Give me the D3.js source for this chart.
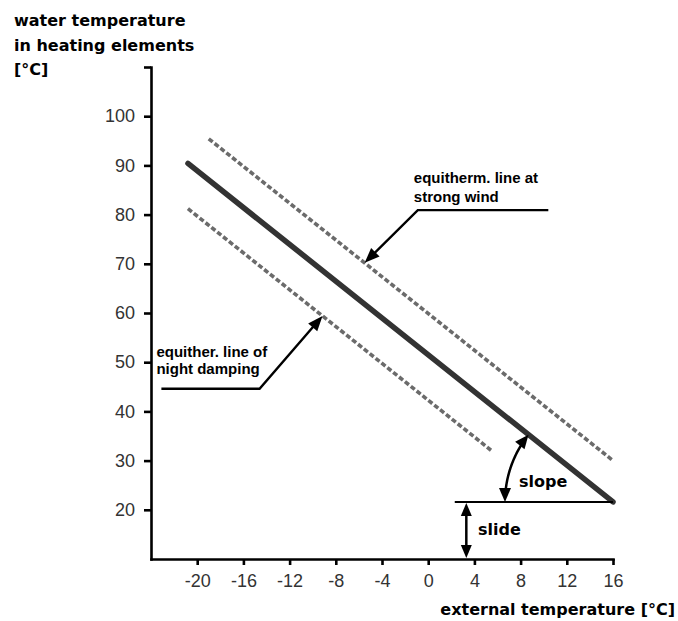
<!DOCTYPE html>
<html>
<head>
<meta charset="utf-8">
<script src="https://cdn.jsdelivr.net/npm/d3@7"></script>
<style>
  body { margin: 0; background: #fff; }
  svg { display: block; }
</style>
</head>
<body>
<div id="chart"></div>
<script>
/* data */
const xTicks = [-20, -16, -12, -8, -4, 0, 4, 8, 12, 16];
const yTicks = [20, 30, 40, 50, 60, 70, 80, 90, 100, 110];
const mainLine = [[-20.8, 90.4], [16, 21.6]];
const windLine = [[-19, 95.4], [16, 30]];
const nightLine = [[-20.8, 81.2], [5.6, 31.8]];
const slideLevel = 21.6;
const slideFrom = 2.3;
const slideArrowX = 3.3;
const windNote = {lines: ["equitherm. line at", "strong wind"], tip: [-5.5, 70.2], elbow: [-0.9, 80.9], end: 10.4};
const nightNote = {lines: ["equither. line of", "night damping"], tip: [-9.15, 59.4], elbow: [-14.6, 44.6], start: -23.1};

const width = 678, height = 621;
const boldFont = "'DejaVu Sans', sans-serif";
const noteFont = "'Liberation Sans', Arial, sans-serif";

const svg = d3.select("#chart").append("svg")
  .attr("width", width)
  .attr("height", height);

/* scales */
const x = d3.scaleLinear().domain([-24, 16]).range([151, 613]);
const y = d3.scaleLinear().domain([10, 110]).range([559, 67]);

/* axes */
const xAxis = d3.axisBottom(x).tickValues(xTicks).tickSize(6).tickSizeOuter(0).tickPadding(9)
  .tickFormat(d => String(d));
const yAxis = d3.axisLeft(y).tickValues(yTicks).tickSize(7).tickSizeOuter(0).tickPadding(9)
  .tickFormat(d => d > 100 ? "" : String(d));

const gx = svg.append("g").attr("transform", "translate(0," + y(10) + ")").call(xAxis);
const gy = svg.append("g").attr("transform", "translate(" + x(-24) + ",0)").call(yAxis);

[gx, gy].forEach(g => {
  g.selectAll("path, line").attr("stroke", "#000").attr("stroke-width", 2.6);
  g.select(".domain").attr("stroke-linecap", "square");
  g.selectAll("text")
    .attr("fill", "#333")
    .style("font", "18px 'Liberation Sans', Arial, sans-serif");
});

/* lines */
const line = d3.line().x(d => x(d[0])).y(d => y(d[1]));

svg.append("path").datum(windLine).attr("d", line)
  .attr("fill", "none").attr("stroke", "#6b6b6b").attr("stroke-width", 3.6)
  .attr("stroke-dasharray", "5,2.5");
svg.append("path").datum(nightLine).attr("d", line)
  .attr("fill", "none").attr("stroke", "#6b6b6b").attr("stroke-width", 3.6)
  .attr("stroke-dasharray", "5,2.5");
svg.append("path").datum(mainLine).attr("d", line)
  .attr("fill", "none").attr("stroke", "#333").attr("stroke-width", 5.5)
  .attr("stroke-linecap", "round");

/* arrow head helper: tip at (px,py), pointing along angle a (radians) */
function arrowHead(px, py, a, len = 12, half = 5) {
  const bx = px - len * Math.cos(a), by = py - len * Math.sin(a);
  const nx = -Math.sin(a) * half, ny = Math.cos(a) * half;
  svg.append("path")
    .attr("d", `M${px},${py}L${bx + nx},${by + ny}L${bx - nx},${by - ny}Z`)
    .attr("fill", "#000");
}

/* slide */
svg.append("line")
  .attr("x1", x(slideFrom)).attr("x2", x(16))
  .attr("y1", y(slideLevel)).attr("y2", y(slideLevel))
  .attr("stroke", "#000").attr("stroke-width", 2);
svg.append("line")
  .attr("x1", x(slideArrowX)).attr("x2", x(slideArrowX))
  .attr("y1", y(slideLevel) + 8).attr("y2", y(10) - 8)
  .attr("stroke", "#000").attr("stroke-width", 2.5);
arrowHead(x(slideArrowX), y(slideLevel) + 1, -Math.PI / 2, 13, 5.5);
arrowHead(x(slideArrowX), y(10) - 1, Math.PI / 2, 13, 5.5);

/* slope arc */
const cx = x(mainLine[1][0]), cy = y(mainLine[1][1]);
const lineAng = Math.atan2(y(mainLine[0][1]) - cy, x(mainLine[0][0]) - cx);
const r = 108;
const a0 = lineAng, a1 = -Math.PI;
const arcPts = d3.range(0, 1.0001, 0.02).map(t => {
  const a = a0 + (a1 - a0) * t;
  return [cx + r * Math.cos(a), cy + r * Math.sin(a)];
});
svg.append("path")
  .attr("d", d3.line().curve(d3.curveBasis)(arcPts.slice(5, arcPts.length - 6)))
  .attr("fill", "none").attr("stroke", "#000").attr("stroke-width", 2.5);
// tangent directions at the ends
arrowHead(arcPts[0][0], arcPts[0][1], a0 + Math.PI / 2, 14, 6);
arrowHead(arcPts[arcPts.length - 1][0], arcPts[arcPts.length - 1][1], a1 - Math.PI / 2, 14, 6);

svg.append("text").attr("x", 519).attr("y", 487)
  .style("font", "bold 16px " + boldFont).text("slope");
svg.append("text").attr("x", 478).attr("y", 535)
  .style("font", "bold 16px " + boldFont).text("slide");

/* annotations */
function leader(pts, tip) {
  svg.append("path").attr("d", d3.line()(pts.slice(0, -1).concat([[
    tip[0] - 8 * Math.cos(Math.atan2(tip[1] - pts[1][1], tip[0] - pts[1][0])),
    tip[1] - 8 * Math.sin(Math.atan2(tip[1] - pts[1][1], tip[0] - pts[1][0]))
  ]])))
    .attr("fill", "none").attr("stroke", "#000").attr("stroke-width", 2.4);
  const prev = pts[pts.length - 2];
  arrowHead(tip[0], tip[1], Math.atan2(tip[1] - prev[1], tip[0] - prev[0]), 15, 6);
}

const wTip = [x(windNote.tip[0]), y(windNote.tip[1])];
const wEl = [x(windNote.elbow[0]), y(windNote.elbow[1])];
leader([[x(windNote.end), wEl[1]], wEl, wTip], wTip);
svg.append("text").attr("x", wEl[0] - 4).attr("y", wEl[1] - 27)
  .style("font", "bold 15px " + noteFont)
  .selectAll("tspan").data(windNote.lines).enter().append("tspan")
  .attr("x", wEl[0] - 4).attr("dy", (d, i) => i ? 19 : 0).text(d => d);

const nTip = [x(nightNote.tip[0]), y(nightNote.tip[1])];
const nEl = [x(nightNote.elbow[0]), y(nightNote.elbow[1])];
const nStart = [x(nightNote.start), nEl[1]];
leader([nStart, nEl, nTip], nTip);
svg.append("text").attr("x", nStart[0] - 5).attr("y", nStart[1] - 32)
  .style("font", "bold 15px " + noteFont)
  .selectAll("tspan").data(nightNote.lines).enter().append("tspan")
  .attr("x", nStart[0] - 5).attr("dy", (d, i) => i ? 17 : 0).text(d => d);

/* axis titles */
const yTitle = ["water temperature", "in heating elements", "[°C]"];
svg.append("text").style("font", "bold 16px " + boldFont)
  .selectAll("tspan").data(yTitle).enter().append("tspan")
  .attr("x", 14).attr("y", (d, i) => 26 + i * 24.5).text(d => d);

svg.append("text").attr("x", 675).attr("y", 615).attr("text-anchor", "end")
  .style("font", "bold 16px " + boldFont).text("external temperature [°C]");
</script>
</body>
</html>
